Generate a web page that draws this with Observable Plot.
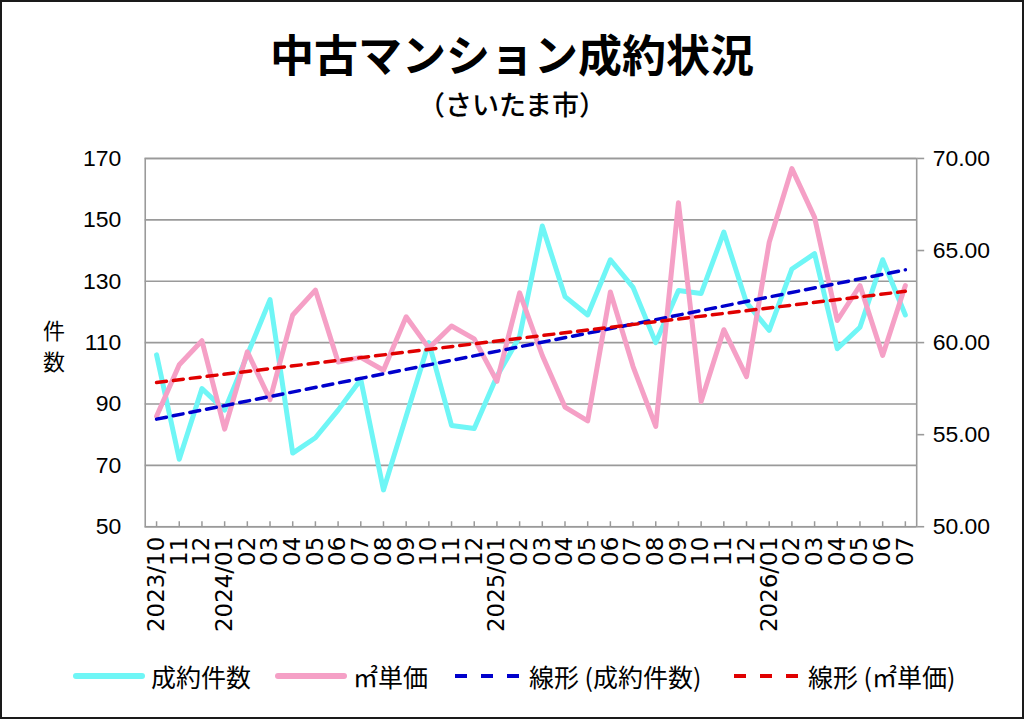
<!DOCTYPE html>
<html lang="ja">
<head>
<meta charset="utf-8">
<script src="https://cdn.jsdelivr.net/npm/d3@7"></script>
<script src="https://cdn.jsdelivr.net/npm/@observablehq/plot@0.6"></script>
<style>
  body { margin: 0; background: #fff; }
  #wrap { position: relative; width: 1024px; height: 719px; box-sizing: border-box; border: 2px solid #1a1a1a; background: #fff; overflow: hidden; font-family: "Noto Sans CJK JP", sans-serif; color: #000; }
  #title { position: absolute; left: 0; width: 100%; top: 29px; text-align: center; font-size: 44px; font-weight: 700; line-height: 1; }
  #subtitle { position: absolute; left: 0; width: 100%; top: 88px; text-align: center; font-size: 27px; font-weight: 500; line-height: 1; }
  #chart { position: absolute; left: -2px; top: 138px; }
  #ylabel { position: absolute; left: 40px; top: 312px; font-size: 22px; line-height: 31px; text-align: center; width: 24px; }
  .leg { position: absolute; top: 658px; display: flex; align-items: center; font-size: 25px; line-height: 32px; white-space: nowrap; }
  .leg svg { margin-right: 5px; }
</style>
</head>
<body>
<div id="wrap">
  <div id="title">中古マンション成約状況</div>
  <div id="subtitle">（さいたま市）</div>
  <div id="ylabel">件<br>数</div>
  <div id="chart"></div>
  <div id="legend"></div>
</div>
<script>
// ---- data ----
const tickLabels = ["2023/10","11","12","2024/01","02","03","04","05","06","07","08","09","10","11","12",
  "2025/01","02","03","04","05","06","07","08","09","10","11","12","2026/01","02","03","04","05","06","07"];
const countValues = [106,72,95,88,106,124,74,79,88,98,62,86,110,83,82,99,112,148,125,119,137,128,110,127,126,146,123,114,134,139,108,115,137,119];
const priceValues = [56.0,58.8,60.1,55.3,59.5,56.9,61.5,62.85,58.95,59.2,58.5,61.4,59.7,60.9,60.2,57.9,62.7,59.3,56.5,55.75,62.75,58.7,55.45,67.6,56.8,60.7,58.15,65.45,69.45,66.8,61.2,63.1,59.3,63.1];
const leftTicks = [50,70,90,110,130,150,170];
const rightTicks = [50,55,60,65,70];
const seriesNames = ["成約件数","㎡単価","線形 (成約件数)","線形 (㎡単価)"];
const seriesColors = ["#6ff6f6","#f5a0c6","#0000cc","#e00000"];

// ---- right axis (50..70) mapped onto left axis (50..170) ----
const toLeft = v => 50 + (v - 50) * 6;
const fromLeft = v => 50 + (v - 50) / 6;

// linear trend (least squares over index)
function trend(vals) {
  const n = vals.length, xs = d3.range(n);
  const mx = d3.mean(xs), my = d3.mean(vals);
  const b = d3.sum(xs, (x, i) => (x - mx) * (vals[i] - my)) / d3.sum(xs, x => (x - mx) ** 2);
  const a = my - b * mx;
  return [0, n - 1].map(i => ({i, v: a + b * i}));
}

const idx = d3.range(tickLabels.length);
const countData = idx.map(i => ({i, v: countValues[i]}));
const priceData = idx.map(i => ({i, v: toLeft(priceValues[i])}));
const countTrend = trend(countValues);
const priceTrend = trend(priceValues).map(d => ({i: d.i, v: toLeft(d.v)}));

const grid = "#9a9a9a";
const chart = Plot.plot({
  width: 1024,
  height: 505,
  marginTop: 18,
  marginBottom: 118,
  marginLeft: 145,
  marginRight: 106,
  style: { fontFamily: "'Liberation Sans', Arial, sans-serif", background: "transparent", overflow: "visible" },
  x: { type: "linear", domain: [-0.5, idx.length - 0.5] },
  y: { domain: [50, 170] },
  marks: [
    Plot.gridY(leftTicks, { stroke: grid, strokeOpacity: 1, strokeWidth: 1.6 }),
    Plot.frame({ stroke: grid, strokeWidth: 1.6 }),
    Plot.ruleX(idx, { x: d => d, stroke: grid, strokeWidth: 1.5, insetTop: 364 }),
    Plot.axisY({ ticks: leftTicks, tickSize: 0, tickPadding: 24, fontSize: 23, fill: "#000", label: null }),
    Plot.axisY({ anchor: "right", ticks: rightTicks.map(toLeft), tickFormat: d => fromLeft(d).toFixed(2),
      tickSize: 7, tickPadding: 9, fontSize: 23, stroke: grid, strokeWidth: 1.6, strokeOpacity: 1, fill: "#000", label: null }),
    Plot.axisX({ ticks: idx, tickFormat: i => tickLabels[i], tickRotate: -90, tickSize: 0, tickPadding: 10,
      fontSize: 23, fill: "#000", fontFamily: "'DejaVu Sans', sans-serif", label: null }),
    Plot.line(countData, { x: "i", y: "v", stroke: seriesColors[0], strokeWidth: 5, strokeLinejoin: "round", strokeLinecap: "round" }),
    Plot.line(priceData, { x: "i", y: "v", stroke: seriesColors[1], strokeWidth: 5, strokeLinejoin: "round", strokeLinecap: "round" }),
    Plot.line(countTrend, { x: "i", y: "v", stroke: seriesColors[2], strokeWidth: 3.5, strokeDasharray: "10,7" }),
    Plot.line(priceTrend, { x: "i", y: "v", stroke: seriesColors[3], strokeWidth: 3.5, strokeDasharray: "10,7" })
  ]
});
document.getElementById("chart").appendChild(chart);

// ---- legend ----
const legendX = [70, 272, 448, 727];
const legend = document.getElementById("legend");
seriesNames.forEach((name, k) => {
  const item = document.createElement("div");
  item.className = "leg";
  item.style.left = legendX[k] + "px";
  const dashed = k >= 2;
  item.innerHTML = `<svg width="74" height="12"><line x1="4" y1="6" x2="70" y2="6" stroke="${seriesColors[k]}" stroke-width="${dashed ? 4 : 6}" stroke-linecap="${dashed ? 'butt' : 'round'}" ${dashed ? 'stroke-dasharray="12,14" stroke-dashoffset="-1"' : ''}/></svg><span>${name}</span>`;
  legend.appendChild(item);
});
</script>
</body>
</html>
